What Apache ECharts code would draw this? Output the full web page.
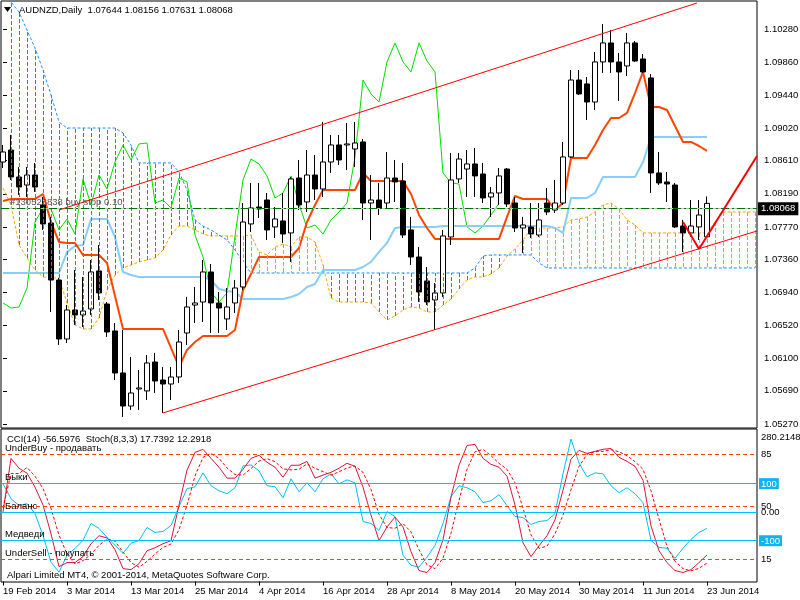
<!DOCTYPE html>
<html>
<head>
<meta charset="utf-8">
<script src="https://cdn.jsdelivr.net/npm/echarts@6.0.0/dist/echarts.min.js"></script>
<style>
  body { margin: 0; background: #fff; }
  #main { width: 800px; height: 600px; }
</style>
</head>
<body>
<div id="main"></div>
<script>
var fontName = "'Liberation Sans', Arial, sans-serif";
var fontSize = 9.5;

// --- data ---
var dateLabels = ['19 Feb 2014', '3 Mar 2014', '13 Mar 2014', '25 Mar 2014', '4 Apr 2014', '16 Apr 2014',
  '28 Apr 2014', '8 May 2014', '20 May 2014', '30 May 2014', '11 Jun 2014', '23 Jun 2014'];
var barsPerLabel = 8;
var priceTicks = [1.05270, 1.05690, 1.06100, 1.06520, 1.06940, 1.07360, 1.07770, 1.08190, 1.08610,
  1.09020, 1.09440, 1.09860, 1.10280];

var openP = [
  1.08593, 1.08745, 1.08403, 1.08301, 1.08428, 1.08048, 1.07819, 1.07096, 1.06348, 1.06716,
  1.06653, 1.06729, 1.07211, 1.06792, 1.06450, 1.05917, 1.05498, 1.05714, 1.05689, 1.06056,
  1.05828, 1.05777, 1.05866, 1.06424, 1.06779, 1.06817, 1.07198, 1.06805, 1.06602, 1.06805,
  1.07008, 1.07807, 1.08022, 1.08111, 1.07769, 1.07845, 1.07693, 1.08390, 1.08086, 1.08428,
  1.08251, 1.08593, 1.08809, 1.08809, 1.08758, 1.08847, 1.08073, 1.08111, 1.08073, 1.08390,
  1.08352, 1.07731, 1.07388, 1.07084, 1.06843, 1.06932, 1.07642, 1.08378, 1.08504, 1.08568,
  1.08441, 1.08149, 1.08200, 1.08504, 1.08073, 1.07756, 1.07769, 1.07667, 1.08073, 1.07984,
  1.08073, 1.08657, 1.09633, 1.09583, 1.09354, 1.09862, 1.10103, 1.09862, 1.09811, 1.10103,
  1.09900, 1.09659, 1.08454, 1.08340, 1.08301, 1.07781, 1.07693, 1.07769, 1.07644];
var highP = [
  1.08809, 1.08936, 1.08530, 1.08530, 1.08581, 1.08149, 1.07896, 1.07122, 1.06779, 1.07223,
  1.07135, 1.07350, 1.07540, 1.06817, 1.06551, 1.06462, 1.06120, 1.05955, 1.06145, 1.06171,
  1.05993, 1.05993, 1.06462, 1.06881, 1.07008, 1.07350, 1.07299, 1.06944, 1.06995, 1.07096,
  1.08073, 1.08327, 1.08327, 1.08200, 1.08022, 1.08200, 1.08403, 1.08619, 1.08745, 1.08682,
  1.09101, 1.08936, 1.08936, 1.09088, 1.09101, 1.08885, 1.08428, 1.08327, 1.08720, 1.08619,
  1.08581, 1.07896, 1.07515, 1.07261, 1.07058, 1.07731, 1.08707, 1.08707, 1.08745, 1.08771,
  1.08581, 1.08276, 1.08517, 1.08517, 1.08149, 1.07896, 1.08073, 1.08073, 1.08263, 1.08365,
  1.08847, 1.09760, 1.09760, 1.09671, 1.09988, 1.10344, 1.10267, 1.09976, 1.10229, 1.10128,
  1.09963, 1.09709, 1.08720, 1.08466, 1.08327, 1.07858, 1.08111, 1.08111, 1.08156];
var lowP = [
  1.08517, 1.08365, 1.08175, 1.08149, 1.08213, 1.07731, 1.06691, 1.06272, 1.06297, 1.06526,
  1.06500, 1.06653, 1.06843, 1.06374, 1.05828, 1.05359, 1.05448, 1.05448, 1.05574, 1.05663,
  1.05410, 1.05574, 1.05790, 1.06272, 1.06551, 1.06564, 1.06424, 1.06424, 1.06462, 1.06678,
  1.06970, 1.07705, 1.07883, 1.07604, 1.07629, 1.07566, 1.07325, 1.07984, 1.07959, 1.08111,
  1.08149, 1.08454, 1.08555, 1.08492, 1.08530, 1.07858, 1.07604, 1.07921, 1.08010, 1.08086,
  1.07629, 1.07287, 1.06817, 1.06779, 1.06462, 1.06881, 1.07540, 1.08327, 1.08149, 1.08149,
  1.08073, 1.07896, 1.08048, 1.08022, 1.07705, 1.07439, 1.07629, 1.07642, 1.07921, 1.07946,
  1.08048, 1.08644, 1.09443, 1.09126, 1.09253, 1.09722, 1.09722, 1.09367, 1.09684, 1.09862,
  1.09722, 1.08200, 1.08301, 1.08086, 1.07756, 1.07452, 1.07642, 1.07604, 1.07631];
var closeP = [
  1.08720, 1.08403, 1.08276, 1.08428, 1.08276, 1.07807, 1.07096, 1.06348, 1.06716, 1.06653,
  1.06703, 1.07198, 1.06932, 1.06437, 1.05917, 1.05498, 1.05663, 1.05727, 1.06044, 1.05815,
  1.05777, 1.05866, 1.06310, 1.06754, 1.06805, 1.07198, 1.06805, 1.06741, 1.06754, 1.06995,
  1.07832, 1.08010, 1.07997, 1.07731, 1.07870, 1.07680, 1.08378, 1.08048, 1.08428, 1.08251,
  1.08593, 1.08809, 1.08619, 1.08822, 1.08834, 1.08073, 1.08111, 1.08010, 1.08390, 1.08340,
  1.07667, 1.07388, 1.06944, 1.06817, 1.06932, 1.07655, 1.08365, 1.08631, 1.08568, 1.08416,
  1.08137, 1.08200, 1.08416, 1.08060, 1.07756, 1.07794, 1.07680, 1.07858, 1.07959, 1.08073,
  1.08657, 1.09633, 1.09456, 1.09354, 1.09862, 1.10103, 1.09862, 1.09735, 1.10103, 1.09874,
  1.09735, 1.08454, 1.08327, 1.08314, 1.07769, 1.07693, 1.07781, 1.07921, 1.08068];

// Ichimoku
var tenkan = [
  1.08099, 1.08124, 1.08124, 1.08124, 1.08124, 1.08187, 1.07832, 1.07578, 1.07566, 1.07566,
  1.07414, 1.07414, 1.07414, 1.07312, 1.06894, 1.06475, 1.06475, 1.06475, 1.06475, 1.06475,
  1.06475, 1.06234, 1.05993, 1.06209, 1.06310, 1.06386, 1.06386, 1.06386, 1.06386, 1.06462,
  1.06970, 1.07173, 1.07388, 1.07388, 1.07388, 1.07388, 1.07388, 1.07502, 1.07832, 1.08048,
  1.08238, 1.08238, 1.08238, 1.08238, 1.08238, 1.08454, 1.08352, 1.08352, 1.08352, 1.08352,
  1.08352, 1.08187, 1.07921, 1.07756, 1.07617, 1.07617, 1.07617, 1.07617, 1.07617, 1.07617,
  1.07617, 1.07617, 1.07617, 1.07896, 1.08162, 1.08124, 1.08124, 1.08124, 1.08124, 1.07984,
  1.08073, 1.08644, 1.08644, 1.08644, 1.08809, 1.08999, 1.09151, 1.09151, 1.09215, 1.09468,
  1.09735, 1.09291, 1.09291, 1.09253, 1.09050, 1.08847, 1.08847, 1.08796, 1.08733];
var kijun = [
  1.07185, 1.07185, 1.07185, 1.07185, 1.07185, 1.07185, 1.07185, 1.07185, 1.07452, 1.07528,
  1.07540, 1.07870, 1.07870, 1.07870, 1.07642, 1.07198, 1.07160, 1.07135, 1.07135, 1.07135,
  1.07135, 1.07135, 1.07135, 1.07135, 1.07135, 1.07135, 1.07096, 1.06982, 1.06957, 1.06944,
  1.06855, 1.06855, 1.06855, 1.06855, 1.06855, 1.06855, 1.06881, 1.06919, 1.07008, 1.07046,
  1.07223, 1.07223, 1.07223, 1.07223, 1.07223, 1.07261, 1.07325, 1.07452, 1.07566, 1.07756,
  1.07769, 1.07769, 1.07769, 1.07769, 1.07769, 1.07781, 1.07781, 1.07781, 1.07781, 1.07781,
  1.07781, 1.07781, 1.07781, 1.07781, 1.07781, 1.07781, 1.07781, 1.07781, 1.07781, 1.07756,
  1.07693, 1.08137, 1.08137, 1.08137, 1.08200, 1.08403, 1.08403, 1.08403, 1.08403, 1.08403,
  1.08593, 1.08910, 1.08910, 1.08910, 1.08910, 1.08910, 1.08910, 1.08910, 1.08910];
var spanA = [
  1.08263, 1.08048, 1.07540, 1.07376, 1.07223, 1.07135, 1.07122, 1.07122, 1.06805, 1.06526,
  1.06475, 1.06475, 1.06614, 1.06970, 1.07160, 1.07249, 1.07287, 1.07325, 1.07350, 1.07376,
  1.07477, 1.07667, 1.07781, 1.07781, 1.07731, 1.07680, 1.07655, 1.07655, 1.07655, 1.07655,
  1.07655, 1.07667, 1.07452, 1.07414, 1.07515, 1.07553, 1.07515, 1.07642, 1.07642, 1.07578,
  1.07287, 1.06868, 1.06817, 1.06817, 1.06817, 1.06817, 1.06805, 1.06691, 1.06589, 1.06640,
  1.06716, 1.06754, 1.06741, 1.06691, 1.06691, 1.06779, 1.06855, 1.06982, 1.07096, 1.07135,
  1.07135, 1.07173, 1.07249, 1.07401, 1.07490, 1.07604, 1.07743, 1.07756, 1.07756, 1.07756,
  1.07769, 1.07858, 1.07870, 1.07896, 1.07959, 1.08048, 1.08073, 1.07997, 1.07858, 1.07794,
  1.07693, 1.07693, 1.07693, 1.07693, 1.07693, 1.07693, 1.07693, 1.07693, 1.07693, 1.07832,
  1.07959, 1.07959, 1.07959, 1.07959, 1.07959];
var spanB = [
  1.10775, 1.10623, 1.10496, 1.10267, 1.10039, 1.09760, 1.09443, 1.09101, 1.09024, 1.09024,
  1.09024, 1.09024, 1.09024, 1.09024, 1.09024, 1.08961, 1.08809, 1.08581, 1.08581, 1.08581,
  1.08581, 1.08581, 1.08466, 1.08238, 1.07858, 1.07781, 1.07731, 1.07667, 1.07604, 1.07477,
  1.07325, 1.07185, 1.07185, 1.07185, 1.07185, 1.07185, 1.07185, 1.07185, 1.07185, 1.07185,
  1.07185, 1.07185, 1.07185, 1.07185, 1.07185, 1.07185, 1.07185, 1.07185, 1.07185, 1.07185,
  1.07185, 1.07185, 1.07185, 1.07185, 1.07185, 1.07185, 1.07185, 1.07185, 1.07185, 1.07249,
  1.07401, 1.07414, 1.07414, 1.07414, 1.07414, 1.07414, 1.07414, 1.07312, 1.07249, 1.07249,
  1.07249, 1.07249, 1.07249, 1.07249, 1.07249, 1.07249, 1.07249, 1.07249, 1.07249, 1.07249,
  1.07249, 1.07249, 1.07249, 1.07249, 1.07249, 1.07249, 1.07249, 1.07249, 1.07249, 1.07249,
  1.07249, 1.07249, 1.07249, 1.07249, 1.07249];
var chikouShift = 26;

// trend lines drawn on the chart: [bar, price]
var upperChannel = [[7, 1.07984], [86.75, 1.10610]];
var lowerChannel = [[20, 1.05410], [94.25, 1.07718]];
var forecastLine = [[85, 1.07832], [87, 1.07490], [94.25, 1.08669]];
var bidPrice = 1.08068;
var buyStopPrice = 1.08204;
var buyStopText = '#130523838 buy stop 0.10';

// lower window
var cci = [
  99.5, 47.3, 23.0, 29.9, -4.9, -81.4, -175.3, -210.1, -150.9, -126.6,
  -98.8, -39.6, -57.0, -88.3, -116.2, -144.0, -109.2, -98.8, -53.6, -71.0,
  -67.5, -46.6, 19.5, 82.1, 89.0, 137.7, 92.5, 75.1, 64.7, 85.6,
  162.1, 165.6, 144.7, 92.5, 89.0, 50.8, 116.9, 71.6, 102.9, 71.6,
  116.9, 134.3, 99.5, 113.4, 102.9, -32.7, -39.6, -64.0, 2.1, -15.3,
  -150.9, -185.7, -192.7, -157.9, -116.2, -39.6, 54.3, 92.5, 85.6, 71.6,
  33.4, 40.3, 61.2, 23.0, -15.3, -18.8, -43.1, -32.7, -29.2, -4.9,
  134.3, 256.0, 172.5, 123.8, 137.7, 134.3, 92.5, 68.2, 85.6, 64.7,
  33.4, -98.8, -123.1, -126.6, -161.4, -126.6, -95.3, -71.0, -56.5976];
var stochMain = [
  46.4, 82.1, 75.5, 72.2, 62.9, 51.0, 31.8, 9.9, 12.6, 12.6,
  16.6, 25.2, 30.5, 29.1, 21.2, 8.6, 7.9, 11.9, 20.5, 22.5,
  25.2, 27.2, 51.0, 74.2, 86.1, 88.1, 82.1, 76.2, 68.9, 68.9,
  74.8, 82.1, 84.1, 79.5, 76.2, 69.5, 77.5, 77.5, 80.1, 68.9,
  70.9, 72.8, 75.5, 78.8, 76.8, 62.9, 44.4, 27.2, 36.4, 43.0,
  36.4, 19.9, 7.3, 6.0, 12.6, 27.8, 56.3, 77.5, 90.7, 91.4,
  82.1, 78.1, 76.2, 70.2, 51.0, 25.8, 16.6, 23.8, 30.5, 41.1,
  60.9, 81.5, 87.4, 85.4, 86.8, 88.1, 88.7, 82.8, 80.1, 76.8,
  67.5, 37.1, 20.5, 12.6, 7.3, 6.0, 7.9, 12.6, 17.7392];
var stochSignal = [
  49.0, 72.0, 72.0, 76.0, 70.2, 62.0, 48.6, 31.0, 18.2, 11.7,
  13.9, 18.1, 24.1, 28.3, 26.9, 19.6, 12.6, 9.5, 13.4, 18.3,
  22.7, 25.0, 34.5, 50.8, 70.4, 82.8, 85.4, 82.1, 75.7, 71.3,
  70.9, 75.3, 80.3, 81.9, 79.9, 75.1, 74.4, 74.8, 78.4, 75.5,
  73.3, 70.9, 73.1, 75.7, 77.0, 72.8, 61.4, 44.8, 36.0, 35.5,
  38.6, 33.1, 21.2, 11.1, 8.6, 15.5, 32.2, 53.9, 74.8, 86.5,
  88.1, 83.9, 78.8, 74.8, 65.8, 49.0, 31.1, 22.1, 23.6, 31.8,
  44.2, 61.2, 76.6, 84.8, 86.5, 86.8, 87.9, 86.5, 83.9, 79.9,
  74.8, 60.5, 41.7, 23.4, 13.5, 8.6, 7.1, 8.8, 12.2918];
var stochLevels = [85, 50, 15];
var stochLevelNames = ['UnderBuy - продавать', '', 'UnderSell - покупать'];
var cciLevels = [100, 0, -100];
var cciLevelNames = ['Быки', 'Баланс', 'Медведи'];
var cciTicks = [-244.9518, -100, 0, 100, 280.2148];
var cciTickText = ['-244.9518', '-100', '0.00', '100', '280.2148'];

// --- build ---
var last = closeP.length - 1;
var candles = openP.map(function (o, i) { return [i, o, closeP[i], lowP[i], highP[i]]; });
function idx(arr) { return arr.map(function (v, i) { return [i, v]; }); }
var chikou = idx(closeP.slice(chikouShift));
var labelBars = dateLabels.map(function (d, k) { return k * barsPerLabel; });
var halfPixel = 0.5 / 8; // one bar is 8 px wide; keeps the 1 px hatch strokes crisp

function line(data, color, width, type, z, xi, yi) {
  return {
    type: 'line', data: data, xAxisIndex: xi || 0, yAxisIndex: yi || 0,
    symbol: 'none', silent: true, z: z, animation: false,
    lineStyle: { color: color, width: width, type: type || 'solid' }
  };
}
var titleStyle = { fontFamily: fontName, fontSize: fontSize, fontWeight: 'normal', color: '#000' };

// kumo: span A line carries the dotted hatch, one segment per bar between span A and span B
var spanASeries = line(idx(spanA), '#ffa500', 1, [3, 2], 2);
spanASeries.markLine = {
  silent: true, symbol: ['none', 'none'], animation: false, label: { show: false },
  data: spanA.map(function (a, i) {
    var col = a >= spanB[i] ? '#ff9a00' : '#1e84ff';
    return [
      { coord: [i + halfPixel, a], lineStyle: { color: col, type: [4, 2], width: 1, opacity: 1 } },
      { coord: [i + halfPixel, spanB[i]] }
    ];
  })
};

var upperSeries = line(upperChannel, '#ff0000', 1, 'solid', 5);
upperSeries.markLine = {
  silent: true, symbol: ['none', 'none'], animation: false,
  data: [
    { yAxis: bidPrice, lineStyle: { color: '#c0c0c0', type: 'solid', width: 1 },
      label: { show: true, position: 'end', distance: 1, formatter: bidPrice.toFixed(5),
        backgroundColor: '#000', color: '#fff', padding: [2, 3, 1, 3], fontFamily: fontName, fontSize: fontSize } },
    { yAxis: buyStopPrice, lineStyle: { color: '#007000', type: [8, 3, 2, 3], width: 1 },
      label: { show: true, position: 'insideStartTop', distance: [9, 1], formatter: buyStopText,
        color: '#555', fontFamily: fontName, fontSize: fontSize } }
  ]
};

var option = {
  animation: false,
  backgroundColor: '#fff',
  title: [
    { text: 'AUDNZD,Daily  ' + [openP[last], highP[last], lowP[last], closeP[last]].map(function (v) { return v.toFixed(5); }).join(' '),
      left: 19, top: 5, padding: 0, textStyle: titleStyle },
    { text: 'CCI(14) ' + cci[last].toFixed(4) + '  Stoch(8,3,3) ' + stochMain[last].toFixed(4) + ' ' + stochSignal[last].toFixed(4),
      left: 7, top: 434, padding: 0, textStyle: titleStyle },
    { text: 'Alpari Limited MT4, © 2001-2014, MetaQuotes Software Corp.',
      left: 7, top: 570, padding: 0, textStyle: titleStyle }
  ],
  graphic: [
    { type: 'polygon', shape: { points: [[4, 7], [11, 7], [7.5, 12]] }, style: { fill: '#000' }, z: 100 }
  ],
  grid: [
    { left: 1, top: 1, width: 756, height: 427, show: true, borderColor: '#000', borderWidth: 1,
      containLabel: false, outerBoundsMode: 'none' },
    { left: 1, top: 429, width: 756, height: 153, show: true, borderColor: '#000', borderWidth: 1,
      containLabel: false, outerBoundsMode: 'none' }
  ],
  xAxis: [
    { type: 'value', gridIndex: 0, min: -0.25, max: 94.25, axisLine: { show: false }, axisTick: { show: false },
      axisLabel: { show: false }, splitLine: { show: false } },
    { type: 'value', gridIndex: 1, min: -0.25, max: 94.25, axisLine: { show: false },
      axisTick: { show: true, customValues: labelBars, length: 4, lineStyle: { color: '#000' } },
      axisLabel: { customValues: labelBars, align: 'left', margin: 4, fontFamily: fontName, fontSize: fontSize, color: '#000',
        formatter: function (v) { return dateLabels[Math.round(v / barsPerLabel)]; } },
      splitLine: { show: false } }
  ],
  yAxis: [
    { type: 'value', gridIndex: 0, position: 'right', min: 1.05219, max: 1.10635,
      axisLine: { show: false }, splitLine: { show: false },
      axisTick: { show: true, customValues: priceTicks, length: 4, lineStyle: { color: '#000' } },
      axisLabel: { customValues: priceTicks, margin: 7, fontFamily: fontName, fontSize: fontSize, color: '#000',
        formatter: function (v) { return v.toFixed(5); } } },
    { type: 'value', gridIndex: 1, position: 'right', min: -0.33, max: 101.67,
      axisLine: { show: false }, splitLine: { show: false }, axisTick: { show: false },
      axisLabel: { customValues: stochLevels, margin: 4, fontFamily: fontName, fontSize: fontSize, color: '#000',
        formatter: function (v) { return String(v); } } },
    { type: 'value', gridIndex: 1, position: 'right', min: -244.6, max: 291.4,
      axisLine: { show: false }, splitLine: { show: false }, axisTick: { show: false },
      axisLabel: { customValues: cciTicks, margin: 2, fontFamily: fontName, fontSize: fontSize, color: '#000',
        formatter: function (v) {
          var k = 0, best = 1e9;
          cciTicks.forEach(function (t, j) { if (Math.abs(t - v) < best) { best = Math.abs(t - v); k = j; } });
          var t = cciTickText[k];
          if (cciTicks[k] === 100 || cciTicks[k] === -100) return '{box|' + t + '}';
          if (k === cciTicks.length - 1) return '{top|' + t + '}';
          if (k === 0) return '{bot|' + t + '}';
          return '{plain|' + t + '}';
        },
        rich: {
          box: { backgroundColor: '#10b4f4', color: '#fff', padding: [1, 2, 0, 2], fontFamily: fontName, fontSize: fontSize },
          plain: { color: '#000', padding: [0, 0, 0, 2], fontFamily: fontName, fontSize: fontSize },
          top: { color: '#000', padding: [10, 0, 0, 2], fontFamily: fontName, fontSize: fontSize },
          bot: { color: '#000', padding: [0, 0, 10, 2], fontFamily: fontName, fontSize: fontSize }
        } } }
  ],
  series: [
    spanASeries,
    line(idx(spanB), '#1e90ff', 1, [3, 2], 2),
    line(chikou, '#00e000', 1, 'solid', 3),
    line(idx(kijun), '#87cefa', 2, 'solid', 3),
    line(idx(tenkan), '#ff4500', 2, 'solid', 3),
    {
      type: 'candlestick', xAxisIndex: 0, yAxisIndex: 0, silent: true, z: 4,
      data: candles, encode: { x: 0, y: [1, 2, 3, 4] }, barWidth: 5,
      itemStyle: { color: '#fff', color0: '#000', borderColor: '#000', borderColor0: '#000', borderWidth: 1 }
    },
    upperSeries,
    line(lowerChannel, '#ff0000', 1, 'solid', 5),
    line(forecastLine, '#ff0000', 2, 'solid', 5),
    // lower window
    (function () {
      var s = line(idx(cci), '#00bfff', 1, 'solid', 3, 1, 2);
      s.markLine = {
        silent: true, symbol: ['none', 'none'], animation: false,
        lineStyle: { color: '#00bfff', type: 'solid', width: 1 },
        label: { show: true, position: 'insideStartTop', distance: [4, 1], color: '#000', fontFamily: fontName, fontSize: fontSize },
        data: cciLevels.map(function (v, k) { return { yAxis: v, label: { formatter: cciLevelNames[k] } }; })
      };
      return s;
    })(),
    (function () {
      var s = line(idx(stochMain), '#dc143c', 1, 'solid', 4, 1, 1);
      s.markLine = {
        silent: true, symbol: ['none', 'none'], animation: false,
        lineStyle: { color: '#ff4500', type: [4, 3], width: 1 },
        label: { show: true, position: 'insideStartTop', distance: [4, 1], color: '#000', fontFamily: fontName, fontSize: fontSize },
        data: stochLevels.map(function (v, k) { return { yAxis: v, label: { formatter: stochLevelNames[k] } }; })
      };
      return s;
    })(),
    line(idx(stochSignal), '#ff0000', 1, [3, 2], 4, 1, 1)
  ]
};

var chart = echarts.init(document.getElementById('main'));
chart.setOption(option);
</script>
</body>
</html>
